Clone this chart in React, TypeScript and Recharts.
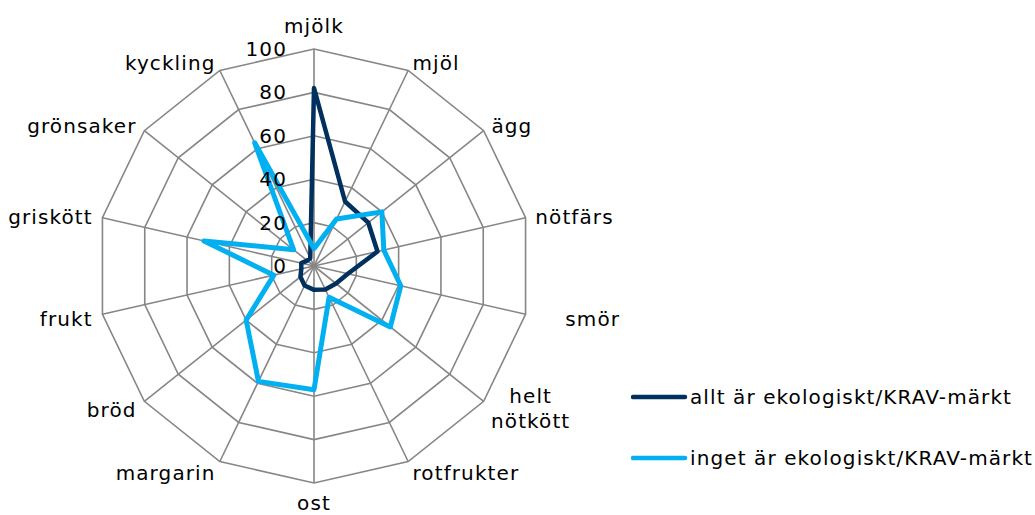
import { RadarChart, Radar, PolarGrid, PolarAngleAxis, PolarRadiusAxis, Legend } from "recharts";

const categories = [
  "mjölk",
  "mjöl",
  "ägg",
  "nötfärs",
  "smör",
  "helt nötkött",
  "rotfrukter",
  "ost",
  "margarin",
  "bröd",
  "frukt",
  "griskött",
  "grönsaker",
  "kyckling",
];

const allt = [82, 33, 32, 30, 16, 13, 12, 11, 10, 8, 6, 6, 4, 4];
const inget = [8, 24, 40, 33, 41, 45, 16, 57, 59, 40, 19, 52, 12, 63];

const radiusTicks = [0, 20, 40, 60, 80, 100];

const seriesNames = ["allt är ekologiskt/KRAV-märkt", "inget är ekologiskt/KRAV-märkt"];
const colors = ["#00305e", "#00b0f0"];

const data = categories.map((name, i) => ({ name, allt: allt[i], inget: inget[i] }));

const CX = 314;
const CY = 266;
const R = 217;
const FONT = "'DejaVu Sans', Verdana, sans-serif";
const textStyle = { fontFamily: FONT, fontSize: 20, letterSpacing: 1.1, fill: "#000" };

// category labels sit just outside the outer ring, like excel does it
function AngleTick(props: any) {
  const { payload } = props;
  const label: string = payload.value;
  const idx = categories.indexOf(label);
  const a = (idx / categories.length) * 2 * Math.PI;
  const sin = Math.sin(a);
  const cos = Math.cos(a);
  let x = CX + (R + 10) * sin;
  const y = CY - (R + 10) * cos;

  if (Math.abs(sin) < 0.1) {
    // top / bottom
    return (
      <text x={x} y={cos > 0 ? y - 6 : y + 17} textAnchor="middle" style={textStyle}>
        {label}
      </text>
    );
  }

  if (label === "smör") x += 30;

  const lines = label.split(" ");
  if (lines.length > 1) {
    const w = Math.max(...lines.map((l) => l.length)) * 11.2;
    return (
      <text textAnchor="middle" style={textStyle}>
        {lines.map((l, i) => (
          <tspan key={i} x={x + w / 2} y={y - 5 + i * 25}>
            {l}
          </tspan>
        ))}
      </text>
    );
  }

  return (
    <text x={x} y={y + 9} textAnchor={sin > 0 ? "start" : "end"} style={textStyle}>
      {label}
    </text>
  );
}

function RadiusTick(props: any) {
  const { x, y, payload } = props;
  return (
    <text x={x - 27} y={y + 7} textAnchor="end" style={textStyle}>
      {payload.value}
    </text>
  );
}

function LegendBox() {
  return (
    <div>
      {seriesNames.map((s, i) => (
        <svg key={s} width={404} height={30} style={{ display: "block", marginBottom: i === 0 ? 31 : 0 }}>
          <line x1={2} y1={15} x2={54} y2={15} stroke={colors[i]} strokeWidth={4.5} strokeLinecap="round" />
          <text x={59} y={22} style={textStyle}>
            {s}
          </text>
        </svg>
      ))}
    </div>
  );
}

export default function App() {
  return (
    <div style={{ position: "absolute", left: 0, top: 0, width: 1035, height: 515, background: "#fff" }}>
      <RadarChart width={1035} height={515} data={data} cx={CX} cy={CY} outerRadius={R} margin={{ top: 0, right: 0, bottom: 0, left: 0 }}>
        <PolarGrid gridType="polygon" stroke="#868686" strokeWidth={1.6} />
        <PolarAngleAxis dataKey="name" tick={AngleTick} axisLine={false} tickLine={false} />
        <PolarRadiusAxis
          angle={90}
          domain={[0, 100]}
          ticks={radiusTicks as any}
          tickCount={6}
          tick={RadiusTick}
          axisLine={false}
          tickLine={false}
        />
        <Radar
          name={seriesNames[0]}
          dataKey="allt"
          stroke={colors[0]}
          strokeWidth={4.5}
          strokeLinejoin="round"
          fill="none"
          fillOpacity={0}
          dot={false}
          isAnimationActive={false}
        />
        <Radar
          name={seriesNames[1]}
          dataKey="inget"
          stroke={colors[1]}
          strokeWidth={5}
          strokeLinejoin="round"
          fill="none"
          fillOpacity={0}
          dot={false}
          isAnimationActive={false}
        />
        <Legend content={LegendBox} wrapperStyle={{ left: 631, top: 382, width: 404 }} />
      </RadarChart>
    </div>
  );
}
